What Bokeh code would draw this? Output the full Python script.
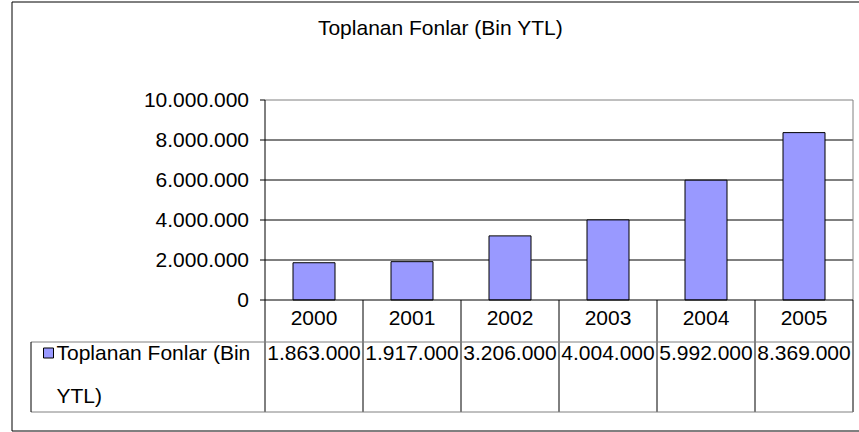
from bokeh.plotting import figure
from bokeh.models import Range1d
from bokeh.embed import file_html
from bokeh.resources import INLINE
from bokeh.core.properties import value

# ---- data ----
title_text = "Toplanan Fonlar (Bin YTL)"
series_name = "Toplanan Fonlar (Bin YTL)"
series_lines = ["Toplanan Fonlar (Bin", "YTL)"]
years = ["2000", "2001", "2002", "2003", "2004", "2005"]
funds = [1863000, 1917000, 3206000, 4004000, 5992000, 8369000]
y_ticks = [0, 2000000, 4000000, 6000000, 8000000, 10000000]
y_tick_labels = ["0", "2.000.000", "4.000.000", "6.000.000", "8.000.000", "10.000.000"]
value_labels = [f"{v:,}".replace(",", ".") for v in funds]

# ---- layout (pixels) ----
W, H = 859, 432
PX_PER_CAT = 98.0
PX_PER_VAL = 20.0 / 1e6
X0_PX = 264.5   # left edge of plot area
Y0_PX = 299.5   # zero line

x_start = -X0_PX / PX_PER_CAT
x_end = x_start + W / PX_PER_CAT
y_end = Y0_PX / PX_PER_VAL
y_start = y_end - H / PX_PER_VAL


def dx(px):
    return px / PX_PER_CAT


def dy(px):
    return px / PX_PER_VAL


def fx(px):
    return x_start + dx(px)


def fy(px):
    return y_end - dy(px)


FONT = value("Liberation Sans")
FS = "21px"
n = len(years)
xc = [i + 0.5 for i in range(n)]
ymax = y_ticks[-1]
header_bottom = -dy(42)
table_bottom = -dy(112)
legend_left = -dx(234)

p = figure(width=W, height=H, x_range=Range1d(x_start, x_end), y_range=Range1d(y_start, y_end),
           output_backend="svg", toolbar_location=None, min_border=0,
           x_axis_location=None, y_axis_location=None)
p.outline_line_color = None
p.background_fill_color = "white"
p.border_fill_color = "white"
p.xgrid.visible = False
p.ygrid.visible = False

# outer chart border
p.quad(left=fx(11.5), right=x_end + 1, top=fy(1.5), bottom=fy(430.5),
       fill_color=None, line_color="black", line_width=1)

# title
p.text(x=[fx(440)], y=[fy(26.5)], text=[title_text], text_font=FONT, text_font_size=FS,
       text_align="center", text_baseline="middle", text_color="black")

# gridlines
p.segment(x0=0, x1=n, y0=y_ticks[1:-1], y1=y_ticks[1:-1], line_color="black", line_width=1)
# plot area top/right border
p.line(x=[0, n, n], y=[ymax, ymax, 0], line_color="#808080", line_width=1)

# bars
p.vbar(x=xc, width=42 / PX_PER_CAT, top=funds, bottom=0,
       fill_color="#9999FF", line_color="black", line_width=1)

# y axis line + ticks
p.segment(x0=[0], x1=[0], y0=[ymax], y1=[table_bottom], line_color="black", line_width=1)
p.segment(x0=-dx(5), x1=0, y0=y_ticks, y1=y_ticks, line_color="black", line_width=1)
p.segment(x0=[0], x1=[n], y0=[0], y1=[0], line_color="black", line_width=1)
p.text(x=-dx(16), y=y_ticks, text=y_tick_labels, text_font=FONT, text_font_size=FS,
       text_align="right", text_baseline="middle", text_color="black")

# data table
p.segment(x0=list(range(1, n + 1)), x1=list(range(1, n + 1)), y0=0, y1=table_bottom,
          line_color="black", line_width=1)
p.segment(x0=legend_left, x1=n, y0=[header_bottom, table_bottom], y1=[header_bottom, table_bottom],
          line_color="#808080", line_width=1)
p.segment(x0=[legend_left], x1=[legend_left], y0=[header_bottom], y1=[table_bottom],
          line_color="black", line_width=1)

p.text(x=xc, y=-dy(18), text=years, text_font=FONT, text_font_size=FS,
       text_align="center", text_baseline="middle", text_color="black")
p.text(x=xc, y=-dy(52.5), text=value_labels, text_font=FONT, text_font_size=FS,
       text_align="center", text_baseline="middle", text_color="black")

# legend key + series name
p.rect(x=[fx(48)], y=[-dy(53)], width=10, height=10, width_units="screen", height_units="screen",
       fill_color="#9999FF", line_color="black", line_width=1)
p.text(x=[fx(56)] * 2, y=[-dy(52.5), -dy(95.5)], text=series_lines, text_font=FONT,
       text_font_size=FS, text_align="left", text_baseline="middle", text_color="black")

open("out.html", "w").write(file_html(p, INLINE))
